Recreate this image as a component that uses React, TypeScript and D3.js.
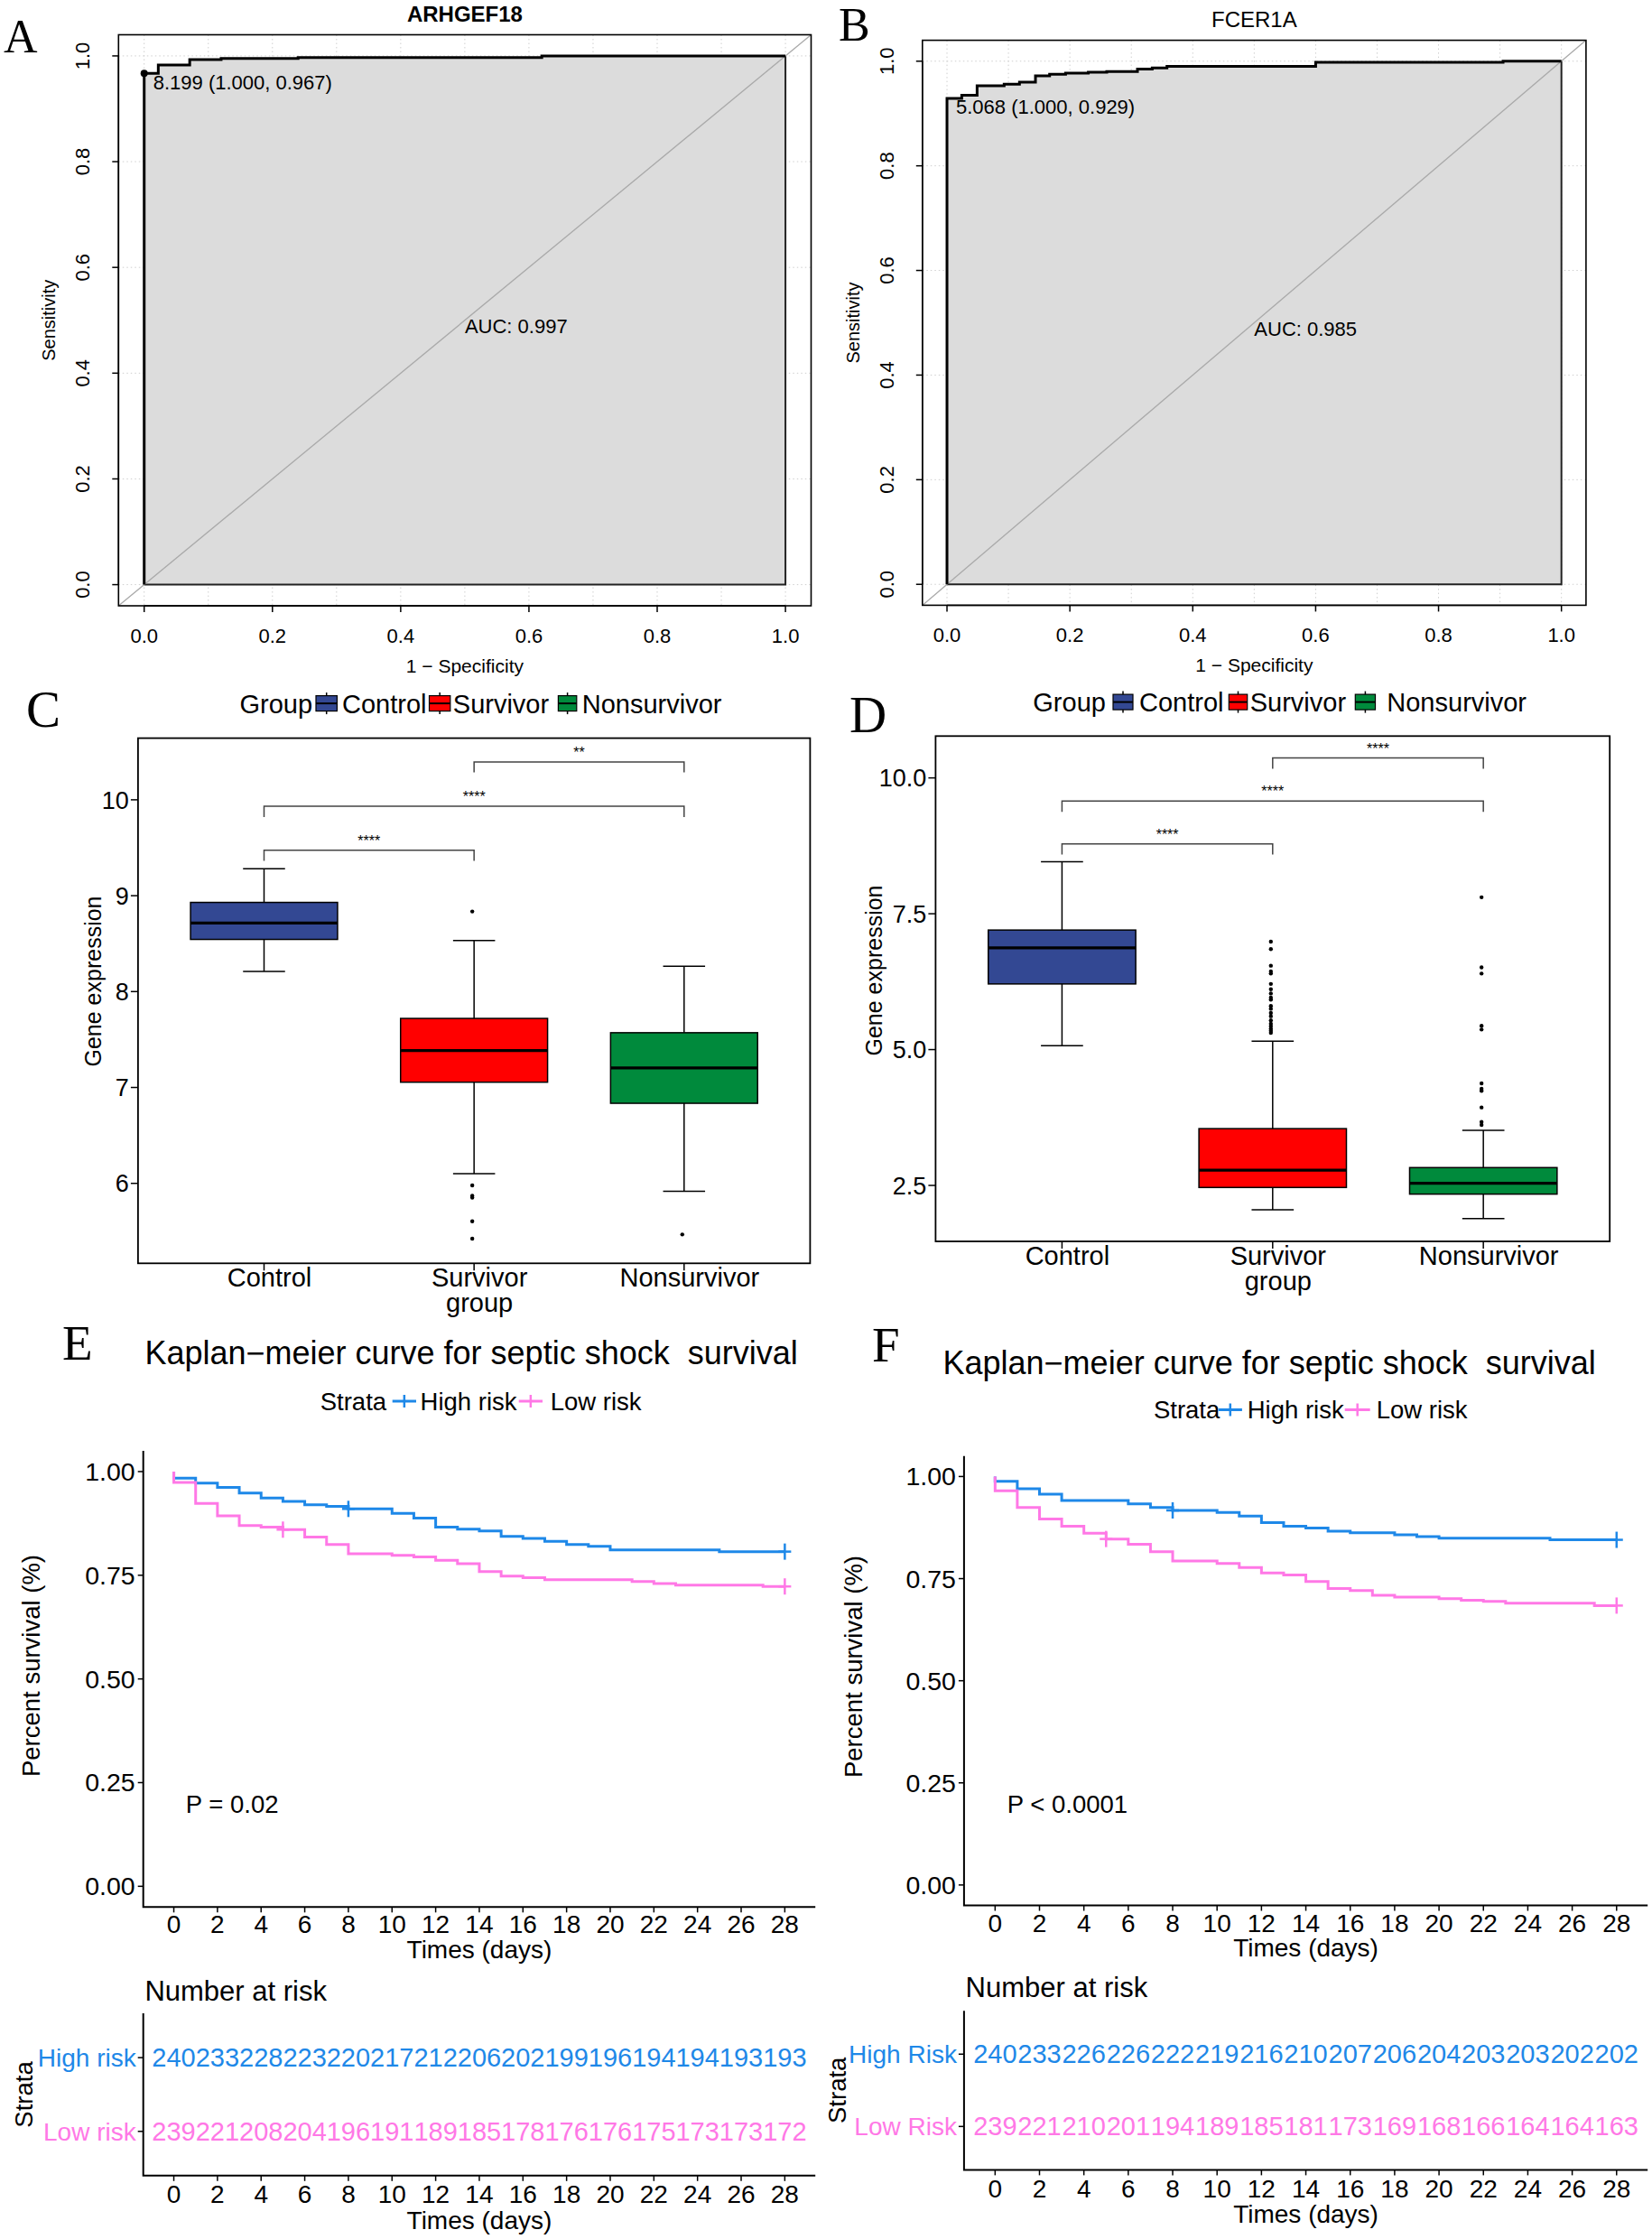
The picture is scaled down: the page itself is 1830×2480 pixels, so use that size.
import React from "react";
import * as d3 from "d3";

const SANS = "'Liberation Sans', Arial, Helvetica, sans-serif";
const SERIF = "'Liberation Serif', 'Times New Roman', Times, serif";

// ROC curves: [1 - specificity, sensitivity]
const rocArhgef18 = [[0, 0], [0, 0.967], [0.022, 0.967], [0.022, 0.983], [0.071, 0.983], [0.071, 0.993], [0.12, 0.993], [0.12, 0.995], [0.24, 0.995], [0.24, 0.997], [0.62, 0.997], [0.62, 1], [1, 1]];
const rocFcer1a = [[0, 0], [0, 0.929], [0.024, 0.929], [0.024, 0.935], [0.049, 0.935], [0.049, 0.953], [0.093, 0.953], [0.093, 0.956], [0.118, 0.956], [0.118, 0.96], [0.144, 0.96], [0.144, 0.972], [0.167, 0.972], [0.167, 0.975], [0.193, 0.975], [0.193, 0.977], [0.23, 0.977], [0.23, 0.979], [0.26, 0.979], [0.26, 0.98], [0.31, 0.98], [0.31, 0.985], [0.334, 0.985], [0.334, 0.987], [0.358, 0.987], [0.358, 0.99], [0.6, 0.99], [0.6, 0.998], [0.905, 0.998], [0.905, 1], [1, 1]];
const rocTicks = [0, 0.2, 0.4, 0.6, 0.8, 1];

// boxplots
const groups = ["Control", "Survivor", "Nonsurvivor"];
const groupTickLabels = [["Control"], ["Survivor", "group"], ["Nonsurvivor"]];
const groupColors = ["#334893", "#FF0000", "#008A3C"];
// [lower whisker, Q1, median, Q3, upper whisker]
const boxStatsC = [[8.21, 8.544, 8.714, 8.93, 9.28], [6.1, 7.055, 7.385, 7.72, 8.533], [5.918, 6.835, 7.203, 7.571, 8.264]];
const outliersC = [[], [8.835, 5.978, 5.87, 5.852, 5.604, 5.423], [5.467]];
const boxStatsD = [[5.071, 6.208, 6.872, 7.2, 8.459], [2.05, 2.462, 2.782, 3.545, 5.155], [1.89, 2.34, 2.538, 2.828, 3.515]];
const outliersD = [[], [6.986, 6.849, 6.544, 6.437, 6.399, 6.208, 6.109, 6.033, 5.956, 5.918, 5.804, 5.75, 5.674, 5.613, 5.537, 5.476, 5.43, 5.384, 5.346, 5.308], [7.803, 6.513, 6.399, 5.438, 5.369, 4.377, 4.278, 4.24, 3.935, 3.668, 3.614]];
const bracketPairs = [[0, 1], [0, 2], [1, 2]];
const bracketYC = [9.473, 9.934, 10.395];
const bracketTipC = [9.364, 9.82, 10.286];
const bracketLabelC = ["****", "****", "**"];
const bracketYD = [8.787, 9.573, 10.366];
const bracketTipD = [8.589, 9.374, 10.168];
const bracketLabelD = ["****", "****", "****"];
const ticksC = [6, 7, 8, 9, 10];
const tickLabelsC = ["6", "7", "8", "9", "10"];
const ticksD = [2.5, 5, 7.5, 10];
const tickLabelsD = ["2.5", "5.0", "7.5", "10.0"];

// Kaplan-Meier
const kmDays = [0, 1, 2, 3, 4, 5, 6, 7, 8, 9, 10, 11, 12, 13, 14, 15, 16, 17, 18, 19, 20, 21, 22, 23, 24, 25, 26, 27, 28];
const kmHighE = [0.984, 0.972, 0.962, 0.948, 0.936, 0.928, 0.92, 0.916, 0.91, 0.91, 0.899, 0.888, 0.866, 0.861, 0.857, 0.844, 0.839, 0.832, 0.824, 0.82, 0.811, 0.811, 0.811, 0.811, 0.811, 0.807, 0.807, 0.807, 0.807];
const kmLowE = [0.974, 0.923, 0.893, 0.87, 0.866, 0.86, 0.842, 0.824, 0.802, 0.802, 0.798, 0.794, 0.786, 0.778, 0.759, 0.748, 0.744, 0.739, 0.739, 0.739, 0.739, 0.735, 0.73, 0.726, 0.726, 0.726, 0.726, 0.723, 0.723];
const kmHighF = [0.988, 0.97, 0.957, 0.941, 0.941, 0.941, 0.933, 0.924, 0.917, 0.917, 0.912, 0.903, 0.887, 0.878, 0.874, 0.866, 0.862, 0.862, 0.857, 0.853, 0.849, 0.849, 0.849, 0.849, 0.849, 0.845, 0.845, 0.845, 0.845];
const kmLowF = [0.965, 0.924, 0.896, 0.878, 0.861, 0.847, 0.834, 0.816, 0.793, 0.793, 0.787, 0.777, 0.764, 0.759, 0.743, 0.726, 0.721, 0.709, 0.705, 0.705, 0.701, 0.697, 0.694, 0.69, 0.69, 0.69, 0.69, 0.684, 0.684];
const censorHigh = [8, 28];
const censorLow = [5, 28];
const kmYTicks = [0, 0.25, 0.5, 0.75, 1];
const kmYLabels = ["0.00", "0.25", "0.50", "0.75", "1.00"];
const riskDays = [0, 2, 4, 6, 8, 10, 12, 14, 16, 18, 20, 22, 24, 26, 28];
const riskHighE = [240, 233, 228, 223, 220, 217, 212, 206, 202, 199, 196, 194, 194, 193, 193];
const riskLowE = [239, 221, 208, 204, 196, 191, 189, 185, 178, 176, 176, 175, 173, 173, 172];
const riskHighF = [240, 233, 226, 226, 222, 219, 216, 210, 207, 206, 204, 203, 203, 202, 202];
const riskLowF = [239, 221, 210, 201, 194, 189, 185, 181, 173, 169, 168, 166, 164, 164, 163];

const BLUE = "#1E88E8";
const PINK = "#FF78E6";

function T({ x, y, size, anchor = "start", fill = "#000", weight = "normal", family = SANS, rot = 0, children }: any) {
  return (
    <text
      transform={`translate(${x},${y})${rot ? ` rotate(${rot})` : ""}`}
      fontSize={size}
      textAnchor={anchor}
      fill={fill}
      fontWeight={weight}
      fontFamily={family}
      style={{ whiteSpace: "pre" }}
    >
      {children}
    </text>
  );
}

function RocPanel(p: any) {
  const { l, r, t, b } = p.box;
  const x = d3.scaleLinear().domain([-0.04, 1.04]).range([l, r]);
  const y = d3.scaleLinear().domain([-0.04, 1.04]).range([b, t]);
  const line = d3.line<number[]>().x((d) => x(d[0])).y((d) => y(d[1]));
  const poly = line([...p.curve, [1, 0]]) + "Z";
  const gx = d3.range(0, 1.001, 0.1);
  const gy = d3.range(0, 1.001, 0.2);
  return (
    <g>
      {gx.map((v) => (
        <line key={"gx" + v} x1={x(v)} x2={x(v)} y1={t} y2={b} stroke="#cfcfcf" strokeDasharray="1.5,3" />
      ))}
      {gy.map((v) => (
        <line key={"gy" + v} x1={l} x2={r} y1={y(v)} y2={y(v)} stroke="#cfcfcf" strokeDasharray="1.5,3" />
      ))}
      <path d={poly} fill="#DCDCDC" />
      <path d={`M${x(0)},${y(0)}H${x(1)}V${y(1)}`} fill="none" stroke="#222" strokeWidth={2} />
      <line x1={x(-0.04)} y1={y(-0.04)} x2={x(1.04)} y2={y(1.04)} stroke="#A9A9A9" strokeWidth={1.3} />
      <path d={line(p.curve) || ""} fill="none" stroke="#000" strokeWidth={3} />
      {p.showPoint && <circle cx={x(p.thr[0])} cy={y(p.thr[1])} r={4} fill="#000" />}
      <T x={x(0) + 10} y={y(p.thr[1]) + 17.5} size={22}>{p.thrLabel}</T>
      <T x={x(0.5)} y={y(0.5) + 14.5} size={22}>{p.auc}</T>
      <rect x={l} y={t} width={r - l} height={b - t} fill="none" stroke="#000" strokeWidth={1.6} />
      <line x1={x(0)} x2={x(1)} y1={b} y2={b} stroke="#000" strokeWidth={1.5} />
      <line x1={l} x2={l} y1={y(0)} y2={y(1)} stroke="#000" strokeWidth={1.5} />
      {rocTicks.map((v) => (
        <g key={"t" + v}>
          <line x1={x(v)} x2={x(v)} y1={b} y2={b + 7} stroke="#000" strokeWidth={1.5} />
          <T x={x(v)} y={b + 41} size={22} anchor="middle">{v.toFixed(1)}</T>
          <line x1={l - 7} x2={l} y1={y(v)} y2={y(v)} stroke="#000" strokeWidth={1.5} />
          <T x={l - 32} y={y(v)} size={22} anchor="middle" rot={-90}>{v.toFixed(1)}</T>
        </g>
      ))}
      <T x={(l + r) / 2} y={b + 73.5} size={21} anchor="middle">1 − Specificity</T>
      <T x={l - 70} y={(y(0) + y(1)) / 2} size={20} anchor="middle" rot={-90}>Sensitivity</T>
      <T x={(l + r) / 2} y={p.titleY} size={24} anchor="middle" weight={p.titleBold ? "bold" : "normal"}>{p.title}</T>
      <T x={p.letterX} y={p.letterY} size={52} family={SERIF}>{p.letter}</T>
    </g>
  );
}

function BoxPanel(p: any) {
  const { l, r, t, b } = p.box;
  const x = d3.scaleLinear().domain([0.4, 3.6]).range([l, r]);
  const y = d3.scaleLinear().domain(p.yDomain).range([b, t]);
  const bw = 0.35;
  const cw = 0.1;
  return (
    <g>
      <rect x={l} y={t} width={r - l} height={b - t} fill="#fff" stroke="#000" strokeWidth={1.8} />
      {p.stats.map((s: number[], i: number) => {
        const cx = x(i + 1);
        return (
          <g key={"b" + i}>
            <line x1={cx} x2={cx} y1={y(s[0])} y2={y(s[1])} stroke="#000" strokeWidth={1.5} />
            <line x1={cx} x2={cx} y1={y(s[3])} y2={y(s[4])} stroke="#000" strokeWidth={1.5} />
            <line x1={x(i + 1 - cw)} x2={x(i + 1 + cw)} y1={y(s[0])} y2={y(s[0])} stroke="#000" strokeWidth={1.5} />
            <line x1={x(i + 1 - cw)} x2={x(i + 1 + cw)} y1={y(s[4])} y2={y(s[4])} stroke="#000" strokeWidth={1.5} />
            <rect x={x(i + 1 - bw)} y={y(s[3])} width={x(i + 1 + bw) - x(i + 1 - bw)} height={y(s[1]) - y(s[3])} fill={groupColors[i]} stroke="#000" strokeWidth={1.5} />
            <line x1={x(i + 1 - bw)} x2={x(i + 1 + bw)} y1={y(s[2])} y2={y(s[2])} stroke="#000" strokeWidth={3.2} />
            {p.outliers[i].map((o: number, j: number) => (
              <circle key={j} cx={cx - 2} cy={y(o)} r={2.2} fill="#000" />
            ))}
          </g>
        );
      })}
      {bracketPairs.map((pr, k) => {
        const x1 = x(pr[0] + 1);
        const x2 = x(pr[1] + 1);
        const yy = y(p.bracketY[k]);
        const yt = y(p.bracketTip[k]);
        return (
          <g key={"br" + k}>
            <path d={`M${x1},${yt}V${yy}H${x2}V${yt}`} fill="none" stroke="#444" strokeWidth={1.5} />
            <T x={(x1 + x2) / 2} y={yy - 5} size={16} anchor="middle">{p.bracketLabel[k]}</T>
          </g>
        );
      })}
      {p.ticks.map((v: number, i: number) => (
        <g key={"yt" + i}>
          <line x1={l - 8} x2={l} y1={y(v)} y2={y(v)} stroke="#000" strokeWidth={1.5} />
          <T x={l - 10} y={y(v) + 9.7} size={27} anchor="end">{p.tickLabels[i]}</T>
        </g>
      ))}
      {groups.map((g, i) => (
        <g key={"xt" + g}>
          <line x1={x(i + 1)} x2={x(i + 1)} y1={b} y2={b + 8} stroke="#000" strokeWidth={1.5} />
          {groupTickLabels[i].map((s, j) => (
            <T key={s} x={x(i + 1) + 6} y={b + 26 + j * 28} size={29} anchor="middle">{s}</T>
          ))}
        </g>
      ))}
      <T x={p.yTitleX} y={p.yTitleY} size={25} anchor="middle" rot={-90}>Gene expression</T>
      <T x={p.leg.group} y={p.leg.y} size={29}>Group</T>
      {groups.map((g, i) => {
        const [k1, k2] = p.leg.keys[i];
        const cy = p.leg.y - 10.4;
        const mx = (k1 + k2) / 2;
        return (
          <g key={"lg" + g}>
            <line x1={mx} x2={mx} y1={cy - 12} y2={cy + 12} stroke="#000" strokeWidth={1.5} />
            <rect x={k1} y={cy - 8.5} width={k2 - k1} height={17} fill={groupColors[i]} stroke="#000" strokeWidth={1.2} />
            <line x1={k1} x2={k2} y1={cy} y2={cy} stroke="#000" strokeWidth={2} />
            <T x={p.leg.labels[i]} y={p.leg.y} size={29}>{g}</T>
          </g>
        );
      })}
      <T x={p.letterX} y={p.letterY} size={57} family={SERIF}>{p.letter}</T>
    </g>
  );
}

function KmPanel(p: any) {
  const { l, r, t, b } = p.box;
  const x = d3.scaleLinear().domain([-1.4, 29.4]).range([l, r]);
  const y = d3.scaleLinear().domain([-0.05, 1.05]).range([b, t]);
  const line = d3.line<number[]>().curve(d3.curveStepAfter).x((d) => x(d[0])).y((d) => y(d[1]));
  const series = [
    { s: p.high, c: BLUE, cens: censorHigh },
    { s: p.low, c: PINK, cens: censorLow },
  ];
  const tb = p.table;
  const ry = d3.scaleLinear().domain([0.4, 2.6]).range([tb.b, tb.t]);
  const rows = [
    { v: p.riskHigh, c: BLUE, lab: p.rowLabels[0], pos: 2 },
    { v: p.riskLow, c: PINK, lab: p.rowLabels[1], pos: 1 },
  ];
  return (
    <g>
      <T x={p.letterX} y={p.letterY} size={55} family={SERIF}>{p.letter}</T>
      <T x={p.titleX} y={p.titleY} size={36}>{"Kaplan−meier curve for septic shock  survival"}</T>
      <T x={p.leg.strata} y={p.leg.y} size={27.5}>Strata</T>
      {series.map((se, i) => {
        const [k1, k2] = p.leg.keys[i];
        const cy = p.leg.y - 9.5;
        return (
          <g key={"lg" + i}>
            <line x1={k1} x2={k2} y1={cy} y2={cy} stroke={se.c} strokeWidth={3} />
            <line x1={(k1 + k2) / 2} x2={(k1 + k2) / 2} y1={cy - 7} y2={cy + 7} stroke={se.c} strokeWidth={2.5} />
            <T x={p.leg.labels[i]} y={p.leg.y} size={27.5}>{i === 0 ? "High risk" : "Low risk"}</T>
          </g>
        );
      })}
      {series.map((se, i) => {
        const pts = [[0, 1], ...kmDays.map((d, j) => [d, se.s[j]])];
        return (
          <g key={"km" + i}>
            <path d={line(pts) || ""} fill="none" stroke={se.c} strokeWidth={3} />
            {se.cens.map((d) => (
              <g key={d}>
                <line x1={x(d)} x2={x(d)} y1={y(se.s[d]) - 9} y2={y(se.s[d]) + 9} stroke={se.c} strokeWidth={2.5} />
                <line x1={x(d) - 7} x2={x(d) + 7} y1={y(se.s[d])} y2={y(se.s[d])} stroke={se.c} strokeWidth={2.5} />
              </g>
            ))}
          </g>
        );
      })}
      <path d={`M${l},${t}V${b}H${r}`} fill="none" stroke="#000" strokeWidth={2} />
      {kmYTicks.map((v, i) => (
        <g key={"y" + v}>
          <line x1={l - 6} x2={l} y1={y(v)} y2={y(v)} stroke="#000" strokeWidth={1.5} />
          <T x={l - 9} y={y(v) + 10} size={28.5} anchor="end">{kmYLabels[i]}</T>
        </g>
      ))}
      {riskDays.map((d) => (
        <g key={"x" + d}>
          <line x1={x(d)} x2={x(d)} y1={b} y2={b + 6} stroke="#000" strokeWidth={1.5} />
          <T x={x(d)} y={b + 29} size={28} anchor="middle">{d}</T>
          <line x1={x(d)} x2={x(d)} y1={tb.b} y2={tb.b + 6} stroke="#000" strokeWidth={1.5} />
          <T x={x(d)} y={tb.b + 30.5} size={28} anchor="middle">{d}</T>
        </g>
      ))}
      <T x={(l + r) / 2} y={b + 56.5} size={28} anchor="middle">Times (days)</T>
      <T x={p.yTitleX} y={p.yTitleY} size={27.5} anchor="middle" rot={-90}>Percent survival (%)</T>
      <T x={x(0.55)} y={y(0.176)} size={27.5}>{p.pval}</T>
      <T x={tb.titleX} y={tb.titleY} size={31}>Number at risk</T>
      <path d={`M${l},${tb.t}V${tb.b}H${r}`} fill="none" stroke="#000" strokeWidth={2} />
      {rows.map((row) => (
        <g key={row.lab}>
          <line x1={l - 6} x2={l} y1={ry(row.pos)} y2={ry(row.pos)} stroke="#000" strokeWidth={1.5} />
          <T x={l - 8} y={ry(row.pos) + 10} size={28} anchor="end" fill={row.c}>{row.lab}</T>
          {riskDays.map((d, j) => (
            <T key={d} x={x(d)} y={ry(row.pos) + 10} size={29} anchor="middle" fill={row.c}>{row.v[j]}</T>
          ))}
        </g>
      ))}
      <T x={(l + r) / 2} y={tb.b + 59} size={28} anchor="middle">Times (days)</T>
      <T x={tb.strataX} y={(tb.t + tb.b) / 2} size={27.5} anchor="middle" rot={-90}>Strata</T>
    </g>
  );
}

export default function App() {
  return (
    <svg width={1830} height={2480} style={{ position: "absolute", left: 0, top: 0, background: "#fff" }}>
      <rect width={1830} height={2480} fill="#fff" />
      <RocPanel
        box={{ l: 131.3, r: 898.5, t: 38.5, b: 671 }}
        curve={rocArhgef18}
        thr={[0, 0.967]}
        showPoint={true}
        thrLabel="8.199 (1.000, 0.967)"
        auc="AUC: 0.997"
        title="ARHGEF18"
        titleBold={true}
        titleY={23.5}
        letter="A"
        letterX={4}
        letterY={58.3}
      />
      <RocPanel
        box={{ l: 1021.8, r: 1756.9, t: 44.6, b: 670.4 }}
        curve={rocFcer1a}
        thr={[0, 0.929]}
        showPoint={false}
        thrLabel="5.068 (1.000, 0.929)"
        auc="AUC: 0.985"
        title="FCER1A"
        titleBold={false}
        titleY={30.4}
        letter="B"
        letterX={929}
        letterY={44.6}
      />
      <BoxPanel
        box={{ l: 152.9, r: 897.4, t: 817.6, b: 1399.3 }}
        yDomain={[5.166, 10.643]}
        stats={boxStatsC}
        outliers={outliersC}
        bracketY={bracketYC}
        bracketTip={bracketTipC}
        bracketLabel={bracketLabelC}
        ticks={ticksC}
        tickLabels={tickLabelsC}
        yTitleX={112.3}
        yTitleY={1087}
        leg={{ y: 789.5, group: 265.5, keys: [[350, 373.4], [475.5, 498.8], [618.4, 638.8]], labels: [379, 501.8, 644.7] }}
        letter="C"
        letterX={29}
        letterY={805}
      />
      <BoxPanel
        box={{ l: 1036.4, r: 1783.2, t: 815.3, b: 1375 }}
        yDomain={[1.47, 10.77]}
        stats={boxStatsD}
        outliers={outliersD}
        bracketY={bracketYD}
        bracketTip={bracketTipD}
        bracketLabel={bracketLabelD}
        ticks={ticksD}
        tickLabels={tickLabelsD}
        yTitleX={976.5}
        yTitleY={1075}
        leg={{ y: 788, group: 1144.3, keys: [[1233, 1255], [1361.3, 1381.7], [1501.3, 1523.5]], labels: [1262, 1384.7, 1536.3] }}
        letter="D"
        letterX={941}
        letterY={811}
      />
      <KmPanel
        box={{ l: 158.7, r: 903.2, t: 1607, b: 2112.3 }}
        high={kmHighE}
        low={kmLowE}
        riskHigh={riskHighE}
        riskLow={riskLowE}
        rowLabels={["High risk", "Low risk"]}
        pval="P = 0.02"
        letter="E"
        letterX={69}
        letterY={1505.5}
        titleX={160.4}
        titleY={1511.3}
        leg={{ y: 1561.5, strata: 354.7, keys: [[434.7, 461], [574.7, 601]], labels: [465.6, 609.7] }}
        yTitleX={43.8}
        yTitleY={1845}
        table={{ t: 2230.1, b: 2409.8, titleX: 160.4, titleY: 2215.5, strataX: 36.3 }}
      />
      <KmPanel
        box={{ l: 1067.9, r: 1825.2, t: 1612.8, b: 2110.5 }}
        high={kmHighF}
        low={kmLowF}
        riskHigh={riskHighF}
        riskLow={riskLowF}
        rowLabels={["High Risk", "Low Risk"]}
        pval="P < 0.0001"
        letter="F"
        letterX={966}
        letterY={1508}
        titleX={1044.5}
        titleY={1522.2}
        leg={{ y: 1571, strata: 1277.9, keys: [[1349.7, 1375.9], [1489.7, 1517.7]], labels: [1381.7, 1524.7] }}
        yTitleX={955.3}
        yTitleY={1846}
        table={{ t: 2227.2, b: 2403.4, titleX: 1069.6, titleY: 2212, strataX: 936.7 }}
      />
    </svg>
  );
}
